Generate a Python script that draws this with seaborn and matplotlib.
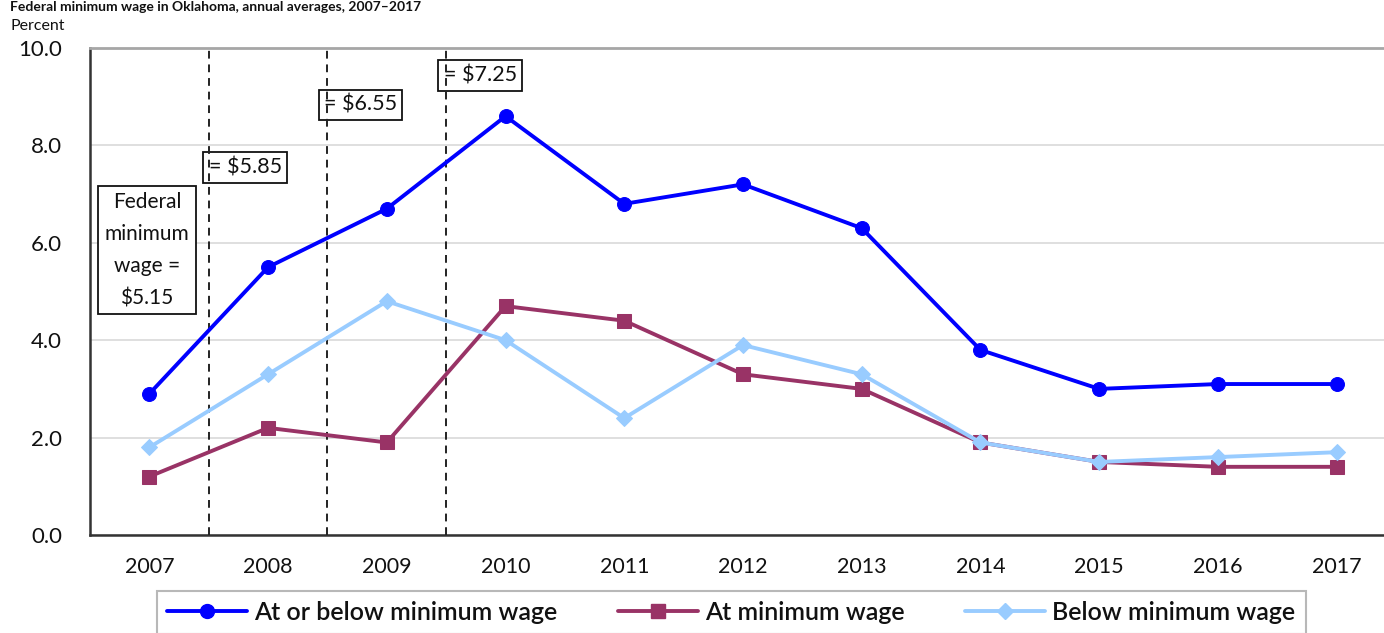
import matplotlib
matplotlib.use("Agg")
import matplotlib.pyplot as plt
import seaborn as sns
import pandas as pd
import numpy as np
from matplotlib.lines import Line2D

years = ["2007", "2008", "2009", "2010", "2011", "2012", "2013", "2014", "2015", "2016", "2017"]
at_or_below = [2.9, 5.5, 6.7, 8.6, 6.8, 7.2, 6.3, 3.8, 3.0, 3.1, 3.1]
at_minimum = [1.2, 2.2, 1.9, 4.7, 4.4, 3.3, 3.0, 1.9, 1.5, 1.4, 1.4]
below_minimum = [1.8, 3.3, 4.8, 4.0, 2.4, 3.9, 3.3, 1.9, 1.5, 1.6, 1.7]
series_names = ["At or below minimum wage", "At minimum wage", "Below minimum wage"]
series_colors = ["#0000FF", "#993366", "#99CCFF"]
series_markers = ["o", "s", "D"]
y_ticks = [0.0, 2.0, 4.0, 6.0, 8.0, 10.0]
wage_labels = ["Federal\nminimum\nwage =\n$5.15", "= $5.85", "= $6.55", "= $7.25"]
title_text = "Federal minimum wage in Oklahoma, annual averages, 2007\u20132017"

sns.set_theme(style="white")
plt.rcParams["font.family"] = ["Lato", "DejaVu Sans"]

W, H = 1384, 633
fig = plt.figure(figsize=(W / 100, H / 100), dpi=100)
ax = fig.add_axes([90 / W, 98 / H, 1306 / W, 487 / H])

pos = np.arange(len(years))
df = pd.DataFrame({"pos": pos, series_names[0]: at_or_below,
                   series_names[1]: at_minimum, series_names[2]: below_minimum})

for name, col, mk in zip(series_names, series_colors, series_markers):
    sns.lineplot(data=df, x="pos", y=name, ax=ax, color=col, marker=mk,
                 markersize=10 if mk != "D" else 8.5, markeredgecolor=col, linewidth=2.8,
                 zorder=4, legend=False)

ax.set_xlim(-0.5, len(years) - 0.5)
ax.set_ylim(0, 10)
ax.set_yticks(y_ticks)
ax.set_yticklabels([f"{v:.1f}" for v in y_ticks], fontsize=16, color="#111111")
ax.set_xticks(pos)
ax.set_xticklabels(years, fontsize=15.5, color="#111111")
ax.set_xticks(np.arange(-0.5, len(years), 1.0), minor=True)
ax.tick_params(axis="x", which="major", length=0, pad=16)
ax.tick_params(axis="x", which="minor", length=7, width=1.5, color="#333333", direction="out")
ax.tick_params(axis="y", which="major", length=0, pad=20)
ax.set_xlabel("")
ax.set_ylabel("")
ax.grid(axis="y", color="#D9D9D9", linewidth=1.2)
ax.grid(axis="x", visible=False)
ax.set_axisbelow(True)

for side in ["left", "bottom"]:
    ax.spines[side].set_color("#333333")
    ax.spines[side].set_linewidth(1.8)
ax.spines["top"].set_color("#A6A6A6")
ax.spines["top"].set_linewidth(2)
ax.spines["right"].set_visible(False)

for xv in [0.5, 1.5, 2.5]:
    ax.axvline(xv, color="#222222", linestyle=(0, (4, 3)), linewidth=1.4, zorder=3)

box = dict(boxstyle="square,pad=0.25", facecolor="white", edgecolor="#111111", linewidth=1.3)
ax.text(-0.02, 5.85, wage_labels[0], ha="center", va="center", fontsize=15,
        linespacing=1.75, bbox=dict(boxstyle="square,pad=0.3", facecolor="white",
                                    edgecolor="#111111", linewidth=1.3), zorder=2, color="#111111")
ax.text(0.5, 7.54, wage_labels[1], ha="left", va="center", fontsize=15.5, bbox=box, zorder=2, color="#111111")
ax.text(1.47, 8.83, wage_labels[2], ha="left", va="center", fontsize=15.5, bbox=box, zorder=2, color="#111111")
ax.text(2.48, 9.43, wage_labels[3], ha="left", va="center", fontsize=15.5, bbox=box, zorder=2, color="#111111")

fig.text(10 / W, 1 - 26 / H, "Percent", fontsize=11.5, ha="left", va="center", color="#111111")
fig.text(10 / W, 1 - 1 / H, title_text, fontsize=10, fontweight="bold", ha="left", va="top", color="#111111")

handles = [Line2D([0], [0], color=c, marker=m, linewidth=2.8, markersize=10 if m != "D" else 8,
                  markeredgecolor=c) for c, m in zip(series_colors, series_markers)]
leg = fig.legend(handles, series_names, loc="upper left", bbox_to_anchor=(157 / W, 1 - 591 / H),
                 ncol=3, frameon=True, fancybox=False, fontsize=18, handlelength=3.2,
                 handletextpad=0.3, columnspacing=2.4, borderpad=0.4, borderaxespad=0)
leg.get_frame().set_edgecolor("#A6A6A6")
leg.get_frame().set_linewidth(1.5)
for t in leg.get_texts():
    t.set_fontweight("semibold")
    t.set_color("#111111")

fig.savefig("out.png", dpi=100)
